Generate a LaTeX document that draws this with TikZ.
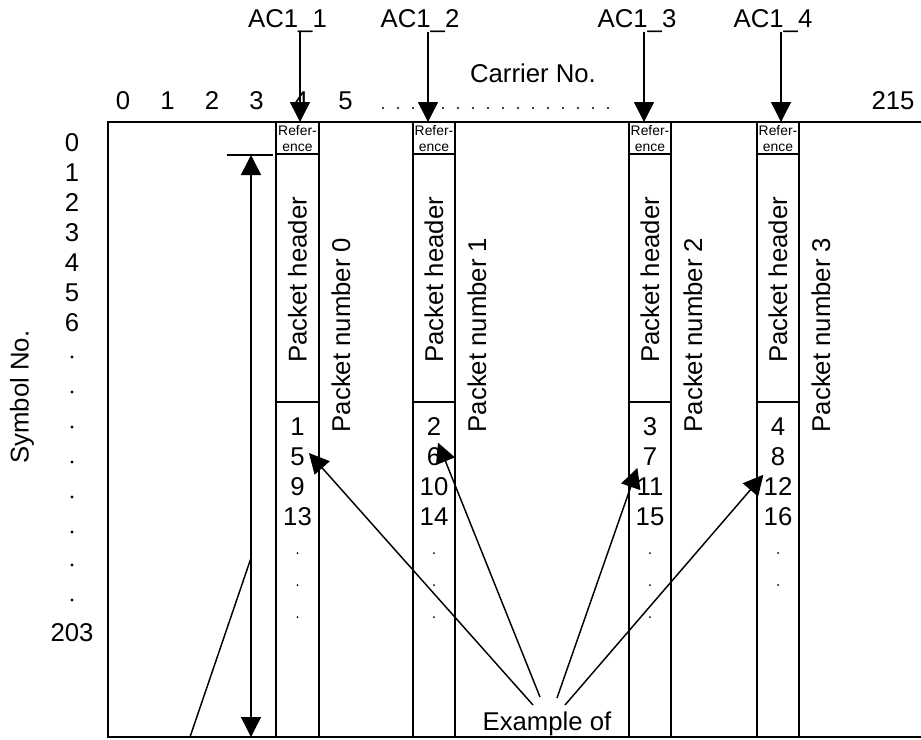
\documentclass[tikz,border=0pt]{standalone}
\usepackage{fontspec}
\setmainfont{Liberation Sans}
\usetikzlibrary{arrows.meta}

\begin{document}
\begin{tikzpicture}[x=0.75pt,y=-0.75pt,>={Triangle[length=15pt,width=15pt]},
    lbl/.style={font=\fontsize{19.3}{22}\selectfont,inner sep=0pt},
    tiny/.style={font=\fontsize{10.4}{12}\selectfont,inner sep=0pt,align=center},
    frame/.style={line width=1.4pt},
    thin line/.style={line width=1.1pt}]

\useasboundingbox (0,0) rectangle (921,739);

% Frame
\draw[frame] (921,122) -- (108,122) -- (108,737) -- (921,737);

% Carrier axis
\node[lbl] (carrier) at (533,73) {Carrier No.};
\foreach \i in {0,...,5}{
    \node[lbl] (c\i) at (123+44.5*\i,101) {\i};
}
\node[lbl] (c215) at (893,101) {215};
\foreach \i in {0,...,15}{
    \fill (383+15*\i,108) circle (1.2);
}

% Symbol axis
\node[lbl,rotate=90] (symbol) at (22,397) {Symbol No.};
\foreach \i in {0,...,6}{
    \node[lbl] (s\i) at (72,143+30*\i) {\i};
}
\foreach \y in {357,392,427,462,497,532,565,600}{
    \fill (72,\y) circle (1.6);
}
\node[lbl] (s203) at (72,633) {203};

% Columns
\foreach \n/\l/\r/\k in {1/276/319/0,2/413/455/1,3/629/671/2,4/757/799/3}{
    \pgfmathsetmacro\cx{(\l+\r)/2}
    \draw[frame] (\l,122) -- (\l,737);
    \draw[frame] (\r,122) -- (\r,737);
    \draw[thin line] (\l,154) -- (\r,154);
    \draw[thin line] (\l,402) -- (\r,402);
    \node[tiny] (ref\n) at (\cx,139) {Refer-\\ence};
    \node[lbl,rotate=90] (hdr\n) at (\cx,280) {Packet header};
    \node[lbl,rotate=90] (pkt\n) at (\r+22,335) {Packet number \k};
    \foreach \j in {0,...,3}{
        \pgfmathtruncatemacro\v{\n+4*\j}
        \node[lbl] (v\v) at (\cx,427+30*\j) {\v};
    }
}
\foreach \x in {297.5,434,650}{
    \foreach \y in {553,585,617}{
        \fill (\x,\y) circle (1);
    }
}
\foreach \y in {553,585}{
    \fill (778,\y) circle (1);
}

% AC1 carriers
\coordinate (top1) at (300,122);
\coordinate (top2) at (428,122);
\coordinate (top3) at (644,122);
\coordinate (top4) at (781,122);
\foreach \n/\x in {1/287.5,2/420,3/637,4/773}{
    \node[lbl,anchor=base] (ac\n) at (\x,27) {AC1\_\n};
    \draw[thin line,->] (ac\n.south -| top\n) -- (top\n);
}

% Symbol span
\coordinate (spantop) at (251,155);
\coordinate (spanbot) at (251,737);
\draw[thin line] (227,155) -- (273,155);
\draw[thin line,<->] (spantop) -- (spanbot);
\coordinate (callfoot) at (190,737);
\coordinate (callhead) at (251,558);
\draw[thin line] (callfoot) -- (callhead);

% Example arrows
\node[lbl,anchor=base] (ex) at (547,730) {Example of};
\draw[thin line,->] ([shift={(-14,-25)}]ex.base) -- ([shift={(4,-4)}]v5.east);
\draw[thin line,->] ([shift={(-7,-33)}]ex.base) -- ([shift={(4,-5)}]v6.north);
\draw[thin line,->] ([shift={(10,-32)}]ex.base) -- ([shift={(1,-10)}]v11.north west);
\draw[thin line,->] ([shift={(18,-25)}]ex.base) -- ([shift={(0,-3)}]v12.north west);

\end{tikzpicture}
\end{document}
